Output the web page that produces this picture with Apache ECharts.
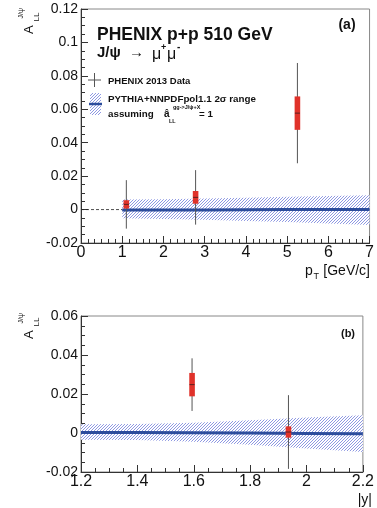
<!DOCTYPE html>
<html><head><meta charset="utf-8">
<script src="https://cdn.jsdelivr.net/npm/echarts@6/dist/echarts.min.js"></script>
<style>html,body{margin:0;padding:0;background:#fff}#c{width:377px;height:508px}</style>
</head><body><div id="c"></div>
<script>
// ---------- Panel (a): A_LL vs pT ----------
const ptX    = [1.10, 2.78, 5.25];
const ptVal  = [0.0031, 0.0073, 0.0577];
const ptStat = [0.0145, 0.0163, 0.0300];
const ptSys  = [0.0025, 0.0038, 0.0100];
const ptBandX  = [1, 2, 3, 4, 5, 6, 7];
const ptBandHi = [0.0060, 0.0062, 0.0066, 0.0071, 0.0076, 0.0081, 0.0086];
const ptBandLo = [-0.0052, -0.0056, -0.0061, -0.0068, -0.0075, -0.0084, -0.0092];
const ptModel  = [-0.0003, -0.0003, -0.0002, -0.0001, 0.0000, 0.0001, 0.0001];
const ptRefX = [0, 1];
const ptRefY = [0, 0];
const ptTicks = {min: 0, max: 7, interval: 1};

// ---------- Panel (b): A_LL vs |y| ----------
const yX    = [1.594, 1.936];
const yVal  = [0.0248, 0.0005];
const yStat = [0.0135, 0.0189];
const ySys  = [0.0060, 0.0029];
const yBandX  = [1.2, 1.4, 1.6, 1.8, 2.0, 2.2];
const yBandHi = [0.0045, 0.0046, 0.0052, 0.0066, 0.0080, 0.0091];
const yBandLo = [-0.0035, -0.0036, -0.0045, -0.0060, -0.0080, -0.0098];
const yModel  = [0.0003, 0.0002, 0.0001, 0.0000, -0.0002, -0.0004];
const yTicks = {min: 1.2, max: 2.2, interval: 0.2};

const FONT = 'Liberation Sans, Arial, Helvetica, sans-serif';

function makeHatch(){
  const n = 3;
  const cv = document.createElement('canvas');
  cv.width = n; cv.height = n;
  const g = cv.getContext('2d');
  g.fillStyle = '#ffffff'; g.fillRect(0,0,n,n);
  g.fillStyle = '#8e98e2';
  for (let i=0;i<n;i++) g.fillRect(i, n-1-i, 1, 1);
  return cv;
}
const hatch = {image: makeHatch(), repeat: 'repeat'};

function bandSeries(gi, xs, hi, lo){
  const data = xs.map((x,i)=>[x, hi[i], lo[i]]);
  return {
    type:'custom', xAxisIndex:gi, yAxisIndex:gi, z:1, silent:true,
    data, encode:{x:0, y:[1,2]},
    renderItem(params, api){
      if (params.dataIndex !== 0) return null;
      const pts = [];
      for (let i=0;i<xs.length;i++) pts.push(api.coord([xs[i], hi[i]]));
      for (let i=xs.length-1;i>=0;i--) pts.push(api.coord([xs[i], lo[i]]));
      return {type:'polygon', shape:{points:pts}, style:{fill:hatch, stroke:null}};
    }
  };
}

function pointSeries(gi, xs, v, st, sy){
  const data = xs.map((x,i)=>[x, v[i], st[i], sy[i]]);
  return {
    type:'custom', xAxisIndex:gi, yAxisIndex:gi, z:5, silent:true,
    data, encode:{x:0, y:1},
    renderItem(params, api){
      const x = api.value(0), y = api.value(1), s = api.value(2), q = api.value(3);
      const t = api.coord([x, y+s]), b = api.coord([x, y-s]);
      const bt = api.coord([x, y+q]), bb = api.coord([x, y-q]);
      const c = api.coord([x, y]);
      return {type:'group', children:[
        {type:'line', shape:{x1:t[0],y1:t[1],x2:b[0],y2:b[1]}, style:{stroke:'#555', lineWidth:1}},
        {type:'rect', shape:{x:c[0]-2.8, y:bt[1], width:5.6, height:bb[1]-bt[1]}, style:{fill:'#e0322a'}},
        {type:'line', shape:{x1:c[0]-2.5,y1:c[1],x2:c[0]+2.5,y2:c[1]}, style:{stroke:'#5a2020', lineWidth:1}}
      ]};
    }
  };
}

function lineSeries(gi, xs, ys, color, width, type, z){
  return {type:'line', xAxisIndex:gi, yAxisIndex:gi, z, silent:true, symbol:'none',
    data: xs.map((x,i)=>[x, ys[i]]), lineStyle:{color, width, type}};
}

function xAxisCfg(gi, t, minorSplit){
  return {type:'value', gridIndex:gi, min:t.min, max:t.max, interval:t.interval,
    axisLine:{show:true, onZero:false, lineStyle:{color:'#333'}},
    axisTick:{show:true, inside:true, length:7, lineStyle:{color:'#333'}},
    minorTick:{show:true, splitNumber:minorSplit, length:4, lineStyle:{color:'#333'}},
    splitLine:{show:false},
    axisLabel:{fontSize:16, color:'#111', margin:2, fontFamily:FONT,
      formatter: v => String(Math.round(v*100)/100)}};
}
function yAxisCfg(gi, min, max){
  return {type:'value', gridIndex:gi, min, max, interval:0.02,
    axisLine:{show:true, onZero:false, lineStyle:{color:'#333'}},
    axisTick:{show:true, inside:true, length:7, lineStyle:{color:'#333'}},
    minorTick:{show:true, splitNumber:4, length:4, lineStyle:{color:'#333'}},
    splitLine:{show:false},
    axisLabel:{fontSize:14, color:'#111', margin:3, fontFamily:FONT,
      formatter: v => String(Math.round(v*1000)/1000)}};
}

function txt(x, y, text, size, opts){
  opts = opts || {};
  return {type:'text', x, y, rotation: opts.rot || 0, z:100, silent:true,
    style:{text, fill: opts.color || '#111', font: (opts.bold?'bold ':'') + size + 'px ' + FONT,
      textAlign: opts.align || 'left', textVerticalAlign: opts.va || 'middle'}};
}

function yTitle(dy){
  const R = Math.PI/2;
  return [
    txt(29, 34+dy, 'A', 13, {rot:R}),
    txt(36.5, 21.5+dy, 'LL', 8, {rot:R}),
    txt(21, 18.5+dy, 'J/\u03c8', 7, {rot:R})
  ];
}

const graphics = [
  // panel a texts
  txt(97, 35, 'PHENIX p+p 510 GeV', 17.5, {bold:true}),
  txt(97, 53, 'J/\u03c8', 15, {bold:true}),
  txt(129, 53, '\u2192', 15),
  txt(152, 55, '\u03bc', 16),
  txt(161, 48, '+', 9, {bold:true}),
  txt(167, 55, '\u03bc', 16),
  txt(177, 47, '-', 10, {bold:true}),
  txt(347, 25, '(a)', 14, {bold:true, align:'center'}),
  // legend
  {type:'line', z:100, silent:true, shape:{x1:88,y1:80,x2:101,y2:80}, style:{stroke:'#555', lineWidth:1}},
  {type:'line', z:100, silent:true, shape:{x1:94.5,y1:73,x2:94.5,y2:87}, style:{stroke:'#555', lineWidth:1}},
  txt(108, 81, 'PHENIX 2013 Data', 9.5, {bold:true}),
  {type:'rect', z:100, silent:true, shape:{x:90,y:93,width:11,height:22}, style:{fill:hatch}},
  {type:'line', z:101, silent:true, shape:{x1:89,y1:104,x2:102,y2:104}, style:{stroke:'#2c4c9c', lineWidth:2.5}},
  txt(108, 99.5, 'PYTHIA+NNPDFpol1.1 2\u03c3 range', 9.8, {bold:true}),
  txt(108, 114, 'assuming', 9.8, {bold:true}),
  txt(164, 114, 'a\u0302', 10, {bold:true}),
  txt(173, 107, 'gg->J/\u03c8+X', 5.5, {bold:true}),
  txt(169, 121, 'LL', 5.5, {bold:true}),
  txt(199, 114, '= 1', 9.8, {bold:true}),
  // axis titles
  txt(305, 271, 'p', 14),
  txt(313.5, 276.5, 'T', 9),
  txt(370, 271, '[GeV/c]', 14, {align:'right'}),
  txt(372, 500, '|y|', 14, {align:'right'}),
  txt(348, 334, '(b)', 11, {bold:true, align:'center'})
].concat(yTitle(0), yTitle(305));

const chart = echarts.init(document.getElementById('c'), null, {renderer:'canvas'});
chart.setOption({
  animation:false,
  backgroundColor:'#fff',
  grid:[
    {left:81, right:7, top:9, height:234, show:true, borderColor:'#888', borderWidth:1, backgroundColor:'transparent'},
    {left:81, right:7, top:316, height:156, show:true, borderColor:'#888', borderWidth:1, backgroundColor:'transparent'}
  ],
  xAxis:[xAxisCfg(0, ptTicks, 6), xAxisCfg(1, yTicks, 4)],
  yAxis:[yAxisCfg(0, -0.02, 0.12), yAxisCfg(1, -0.02, 0.06)],
  series:[
    bandSeries(0, ptBandX, ptBandHi, ptBandLo),
    lineSeries(0, ptRefX, ptRefY, '#222', 0.8, [3,2], 2),
    lineSeries(0, ptBandX, ptModel, '#2c4c9c', 3, 'solid', 3),
    pointSeries(0, ptX, ptVal, ptStat, ptSys),
    bandSeries(1, yBandX, yBandHi, yBandLo),
    lineSeries(1, yBandX, yModel, '#2c4c9c', 3, 'solid', 3),
    pointSeries(1, yX, yVal, yStat, ySys)
  ],
  graphic: graphics
});
</script>
</body></html>
